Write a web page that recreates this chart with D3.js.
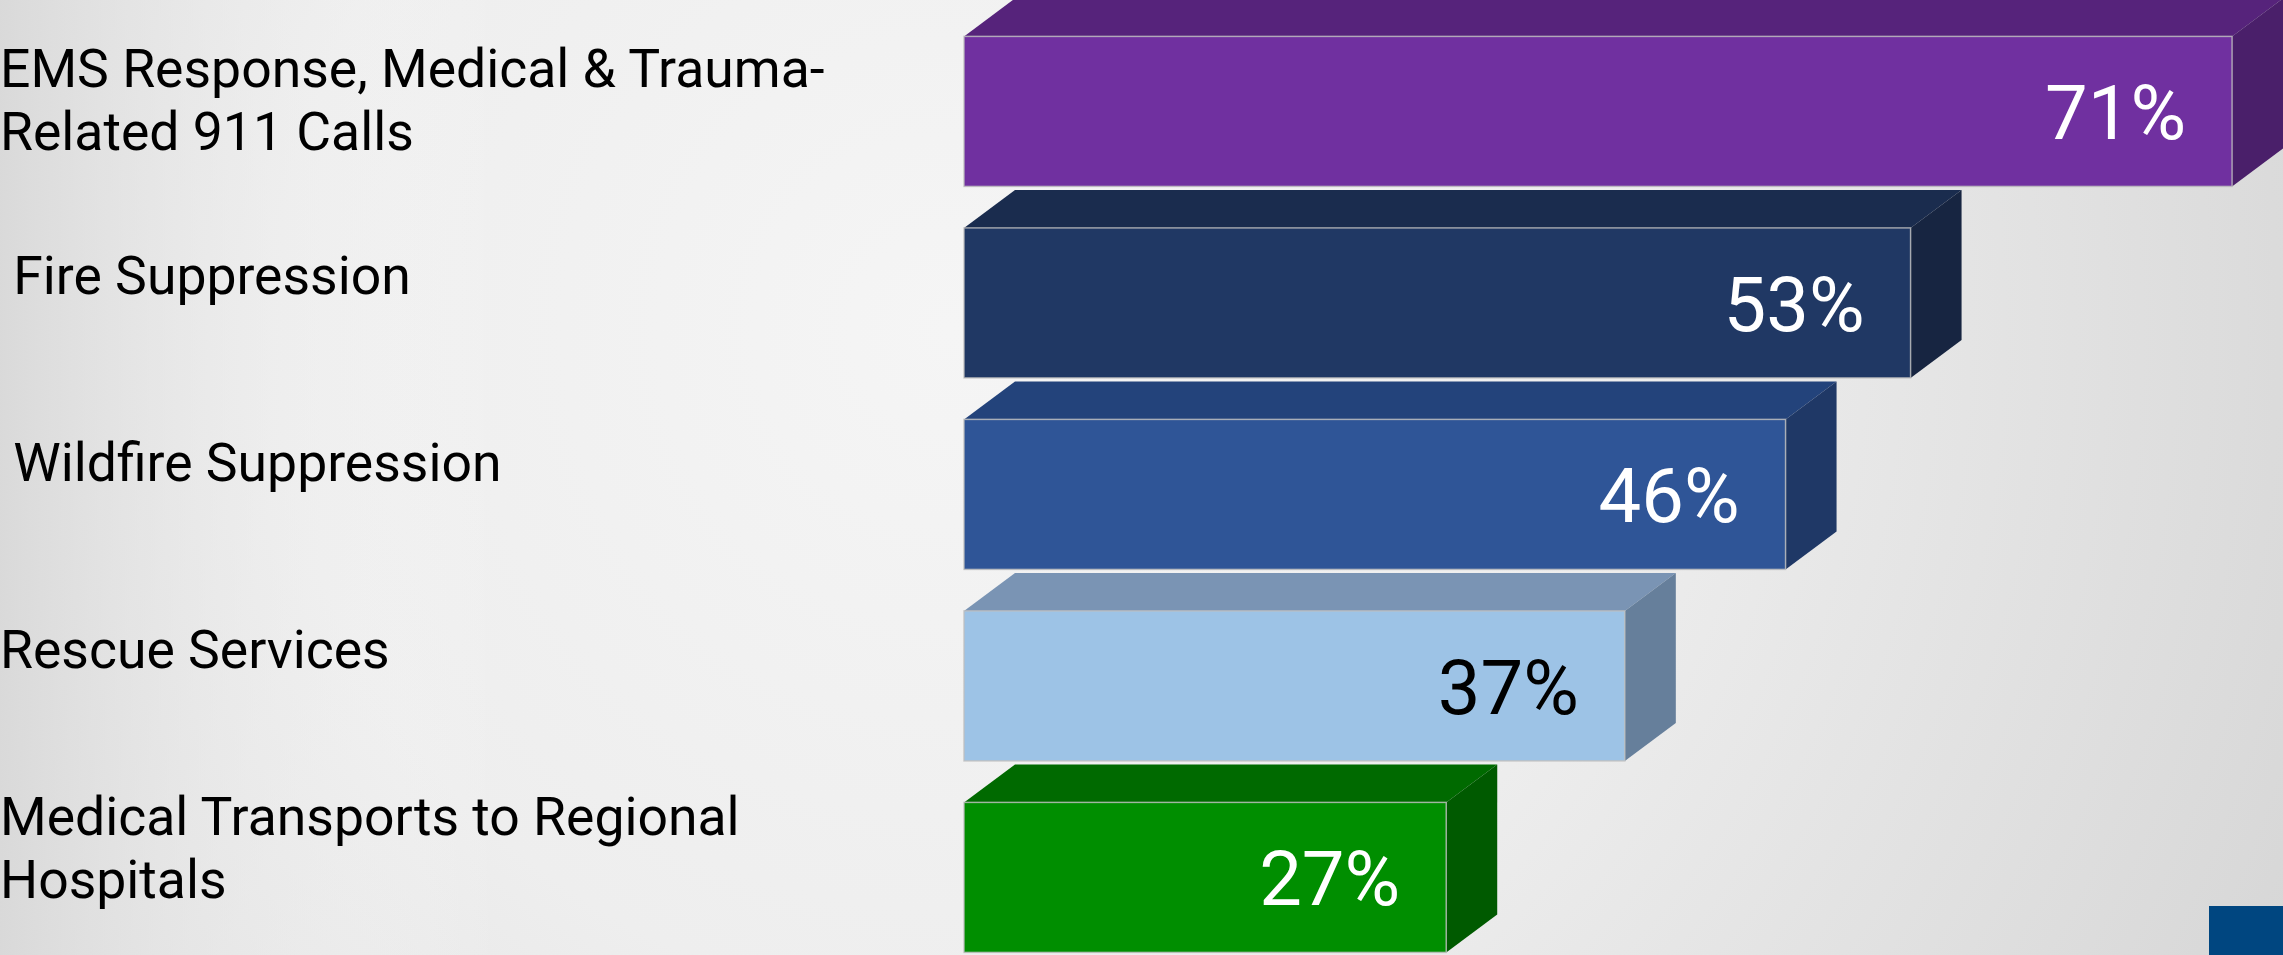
<!DOCTYPE html>
<html>
<head>
<meta charset="utf-8">
<script src="https://cdn.jsdelivr.net/npm/d3@7"></script>
<style>
  html, body { margin: 0; padding: 0; overflow: hidden; background: #e8e8e8; }
  svg { display: block; }
  text { font-family: Roboto, "Noto Sans", sans-serif; }
</style>
</head>
<body>
<svg id="chart" width="2283" height="955"></svg>
<script>
// ---- data ----
const categories = [
  "EMS Response, Medical & Trauma-Related 911 Calls",
  "Fire Suppression",
  "Wildfire Suppression",
  "Rescue Services",
  "Medical Transports to Regional Hospitals"
];
const categoryLines = [
  ["EMS Response, Medical & Trauma-", "Related 911 Calls"],
  [" Fire Suppression"],
  [" Wildfire Suppression"],
  ["Rescue Services"],
  ["Medical Transports to Regional", "Hospitals"]
];
const values = [71, 53, 46, 37, 27];
const valueLabels = ["71%", "53%", "46%", "37%", "27%"];

// ---- palette ----
const frontColors = ["#7030A0", "#203864", "#2F5597", "#9DC3E6", "#008E00"];
const topColors   = ["#56237B", "#1A2C4E", "#23437B", "#7A94B4", "#006A00"];
const sideColors  = ["#4A1F6A", "#172541", "#1F3866", "#667F9B", "#005A00"];
const labelColors = ["#FFFFFF", "#FFFFFF", "#FFFFFF", "#000000", "#FFFFFF"];

// ---- layout ----
const W = 2283, H = 955;
const svg = d3.select("#chart");

// background radial gradient
const defs = svg.append("defs");
const rg = defs.append("radialGradient")
  .attr("id", "bg").attr("gradientUnits", "userSpaceOnUse")
  .attr("cx", 950).attr("cy", 330).attr("r", 1500);
rg.append("stop").attr("offset", "0").attr("stop-color", "#f5f5f5");
rg.append("stop").attr("offset", "0.45").attr("stop-color", "#eeeeee");
rg.append("stop").attr("offset", "1").attr("stop-color", "#d6d6d6");
const lg = defs.append("linearGradient")
  .attr("id", "bgl").attr("x1", "0").attr("x2", "1").attr("y1", "0").attr("y2", "0");
lg.append("stop").attr("offset", "0").attr("stop-color", "#d8d8d8").attr("stop-opacity", 0.9);
lg.append("stop").attr("offset", "0.22").attr("stop-color", "#ffffff").attr("stop-opacity", 0);
svg.append("rect").attr("width", W).attr("height", H).attr("fill", "url(#bg)");
svg.append("rect").attr("width", W).attr("height", H).attr("fill", "url(#bgl)");

const x = d3.scaleLinear().domain([0, 100]).range([964, 2750]);
const y = d3.scaleBand().domain(categories).range([36.4, 952.4])
  .paddingInner(0.2167).paddingOuter(0);
const yLabel = d3.scalePoint().domain(categories).range([99, 847]);

const depthX = 51, depthY = 38;
const data = categories.map((c, i) => ({ c, v: values[i], i }));

const bars = svg.append("g").selectAll("g.bar").data(data).join("g").attr("class", "bar");

// top face
bars.append("path")
  .attr("fill", d => topColors[d.i])
  .attr("d", d => {
    const x0 = x(0), x1 = x(d.v), yt = y(d.c);
    return `M${x0},${yt}L${x0 + depthX},${yt - depthY}L${x1 + depthX},${yt - depthY}L${x1},${yt}Z`;
  });
// side face
bars.append("path")
  .attr("fill", d => sideColors[d.i])
  .attr("d", d => {
    const x1 = x(d.v), yt = y(d.c), yb = yt + y.bandwidth();
    return `M${x1},${yt}L${x1 + depthX},${yt - depthY}L${x1 + depthX},${yb - depthY}L${x1},${yb}Z`;
  });
// front face
bars.append("rect")
  .attr("x", x(0))
  .attr("y", d => y(d.c))
  .attr("width", d => x(d.v) - x(0))
  .attr("height", y.bandwidth())
  .attr("fill", d => frontColors[d.i])
  .attr("stroke", "rgba(190,190,190,0.8)")
  .attr("stroke-width", 1.5);

// value labels
bars.append("text")
  .attr("x", d => x(d.v) - 46)
  .attr("y", d => y(d.c) + y.bandwidth() / 2 + 28)
  .attr("text-anchor", "end")
  .attr("font-size", 76)
  .attr("fill", d => labelColors[d.i])
  .text(d => valueLabels[d.i]);

// category labels
const lineH = 63;
const labels = svg.append("g").selectAll("text.cat").data(data).join("text")
  .attr("class", "cat")
  .attr("font-size", 53.5)
  .attr("fill", "#000")
  .style("white-space", "pre")
  .attr("xml:space", "preserve");
labels.each(function(d) {
  const lines = categoryLines[d.i];
  const n = lines.length;
  const first = yLabel(d.c) - (n - 1) * lineH / 2 + 19 - (n === 1 ? 11 : 0);
  d3.select(this).selectAll("tspan").data(lines).join("tspan")
    .attr("x", 0)
    .attr("y", (l, j) => first + j * lineH)
    .text(l => l);
});

// slide corner decoration
svg.append("rect").attr("x", 2209).attr("y", 906).attr("width", W - 2209).attr("height", H - 906)
  .attr("fill", "#004680");
</script>
</body>
</html>
